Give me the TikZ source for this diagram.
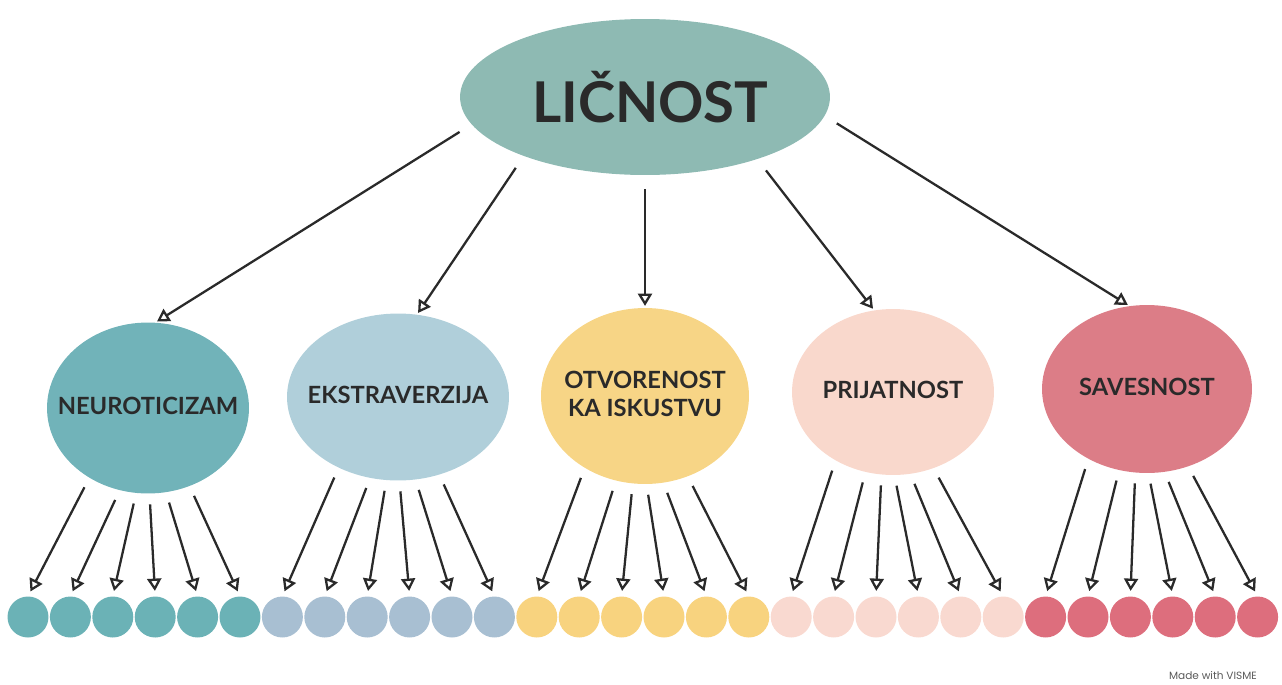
\documentclass[tikz,border=0pt]{standalone}
\usepackage{fontspec}
\setmainfont{Lato}
\newfontfamily\vismefont{Poppins}
\usetikzlibrary{arrows.meta,shapes}
\definecolor{rootcol}{HTML}{8EBAB3}
\definecolor{neucol}{HTML}{71B3B9}
\definecolor{extcol}{HTML}{B0CFDA}
\definecolor{otvcol}{HTML}{F7D586}
\definecolor{pricol}{HTML}{F9D8CC}
\definecolor{savcol}{HTML}{DC7D87}
\definecolor{neuleaf}{HTML}{6BB2B6}
\definecolor{extleaf}{HTML}{A8BFD2}
\definecolor{otvleaf}{HTML}{F8D37F}
\definecolor{prileaf}{HTML}{F9D9D0}
\definecolor{savleaf}{HTML}{DD6E7D}
\definecolor{inkcol}{HTML}{2A2A2A}
\newcommand{\traittext}[1]{\makebox[0pt]{\raisebox{-3pt}{\begin{tabular}{@{}c@{}}#1\end{tabular}}}}
\tikzstyle{rootvertex}=[ellipse,fill=rootcol,minimum width=7.4cm,minimum height=3.12cm,inner sep=0pt,text=inkcol,font=\fontsize{32}{36}\selectfont\bfseries]
\tikzstyle{traitvertex}=[ellipse,inner sep=0pt,text=inkcol,font=\fontsize{13.5}{18}\selectfont\bfseries]
\tikzstyle{leaf}=[circle,minimum size=0.82cm,inner sep=0pt]
\tikzstyle{edge} = [draw,line width=1.3pt,draw=inkcol,-{Triangle[open,length=7pt,width=8pt]}]

\begin{document}
\begin{tikzpicture}[x=0.02cm,y=-0.02cm]
    \useasboundingbox (0,0) rectangle (1282,684);
    % Root of the tree
    \node[rootvertex] (top) at (645,97) {\hspace*{6pt}LIČNOST};
    % The five traits
    \foreach \pos/\name/\col/\w/\h/\txt in {{(148,408)/neu/neucol/4.04cm/3.42cm/NEUROTICIZAM},
                                           {(398,397)/ext/extcol/4.44cm/3.34cm/EKSTRAVERZIJA},
                                           {(645,396)/otv/otvcol/4.16cm/3.52cm/{OTVORENOST\\[-2pt]KA ISKUSTVU}},
                                           {(893,392)/pri/pricol/4.04cm/3.32cm/PRIJATNOST},
                                           {(1147,389)/sav/savcol/4.2cm/3.36cm/SAVESNOST}}
        \node[traitvertex, fill=\col, minimum width=\w, minimum height=\h] (\name) at \pos {\traittext{\txt}};
    % Connect root with traits
    \foreach \from/\dest/\to in {189/neu/85, 206/ext/77, 270/otv/90, 331/pri/103, 354/sav/102}
        \path[edge, shorten <=8pt, shorten >=1pt] (top.\from) -- (\dest.\to);
    % Six facets under every trait
    \foreach \name/\col [count=\g from 0] in {neu/neuleaf, ext/extleaf, otv/otvleaf, pri/prileaf, sav/savleaf}
        \foreach \k/\ang in {0/230, 1/251, 2/262, 3/271, 4/282, 5/298} {
            \node[leaf, fill=\col] (\name\k) at ({28+42.4*(6*\g+\k)},617) {};
            \path[edge, shorten <=6pt, shorten >=3pt] (\name.\ang) -- (\name\k.north);
        }

   \node[text=black!65, font=\vismefont\fontsize{6}{7}\selectfont] (made) at (1213,676) {Made with VISME};
\end{tikzpicture}
\end{document}
